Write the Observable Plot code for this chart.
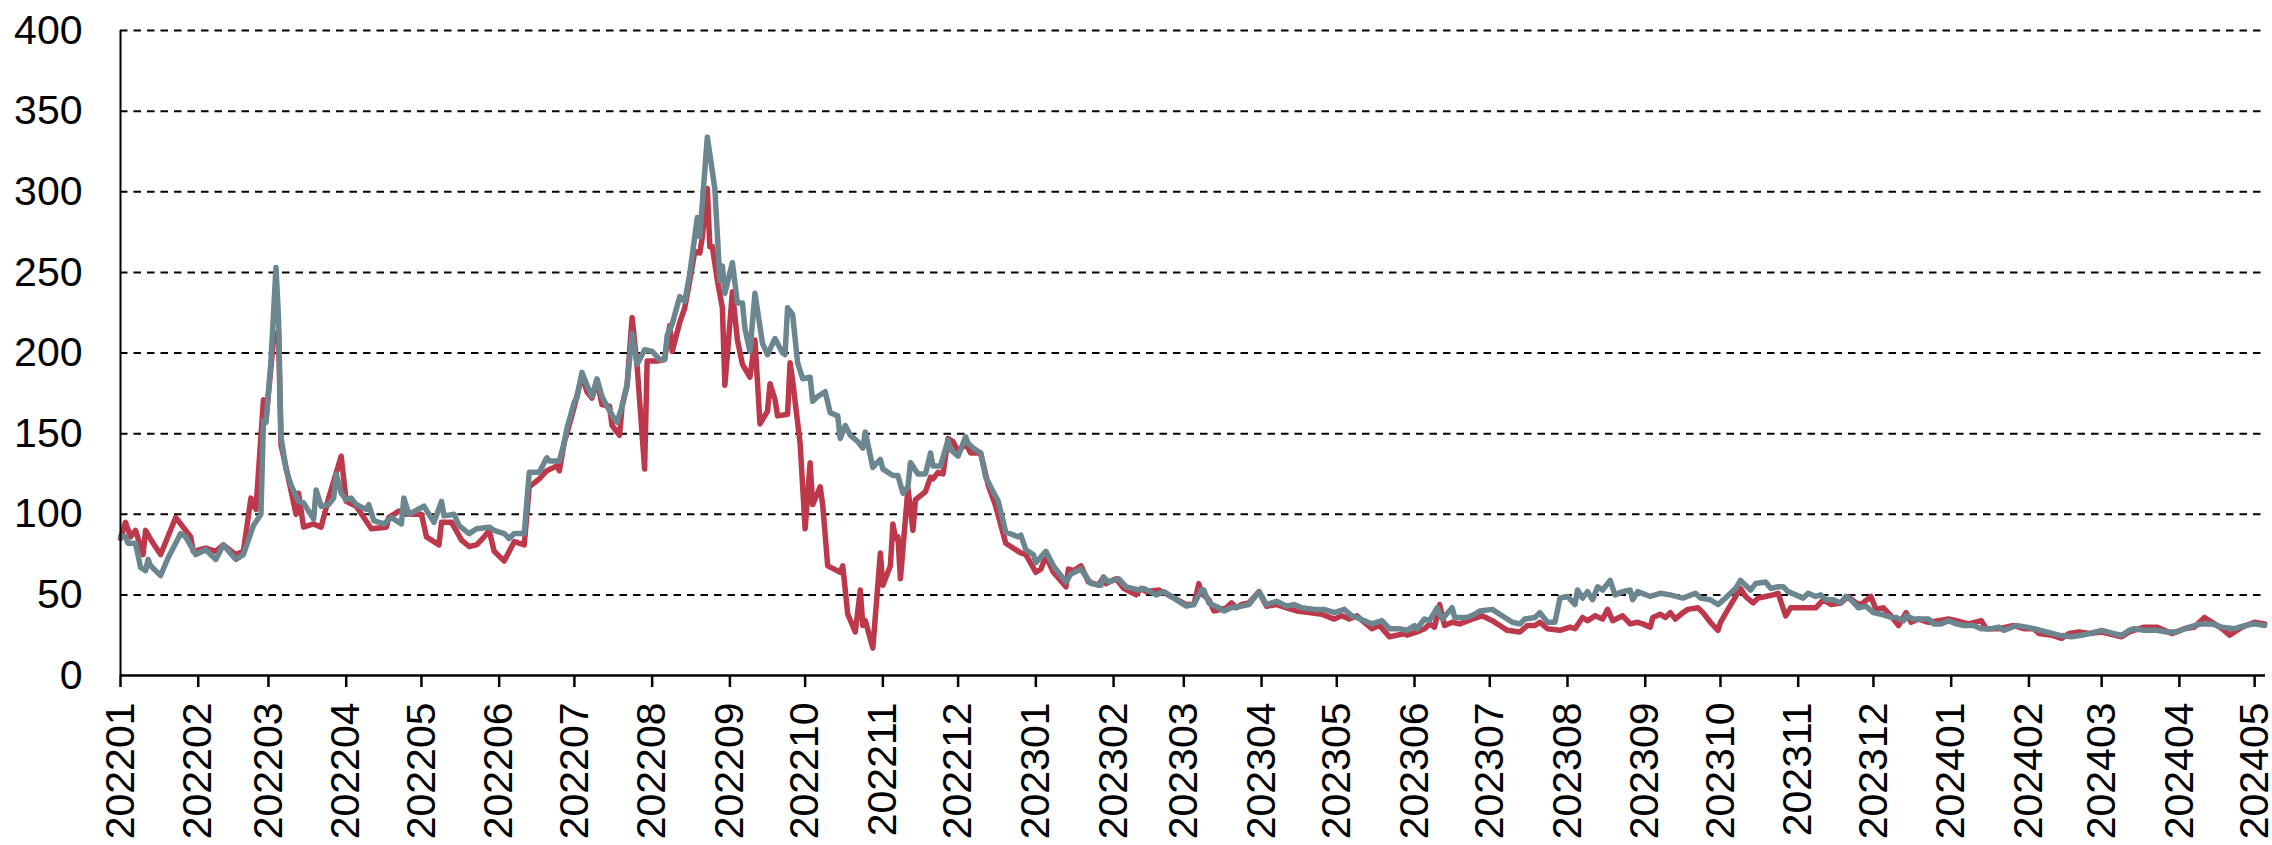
<!DOCTYPE html>
<html>
<head>
<meta charset="utf-8">
<script src="https://cdn.jsdelivr.net/npm/d3@7"></script>
<script src="https://cdn.jsdelivr.net/npm/@observablehq/plot@0.6"></script>
<style>
  html, body { margin: 0; padding: 0; background: #fff; }
</style>
</head>
<body>
<div id="chart"></div>
<script>
// ---- data (x = days since 2022-01-01, y = value) ----
const seriesStart = "2022-01-01";
const axisEnd = "2024-05-05T08:00";
const yTicks = [0, 50, 100, 150, 200, 250, 300, 350, 400];
const monthLabels = [
  "202201","202202","202203","202204","202205","202206","202207","202208","202209","202210","202211","202212",
  "202301","202302","202303","202304","202305","202306","202307","202308","202309","202310","202311","202312",
  "202401","202402","202403","202404","202405"
];

const redSeries = [
  [0,85],[2,95],[4,86],[6,90],[9,75],[10,90],[13,82],[16,75],[22,98],[28,86],[29,77],[34,79],[38,77],[41,81],[46,75],[49,77],
  [52,110],[54,103],[57,171],[58,158],[61,208],[63,214],[64,143],[66,129],[70,100],[71,113],[73,92],[77,94],[80,92],[83,110],
  [88,136],[90,108],[94,105],[100,91],[106,92],[107,98],[111,102],[114,100],[120,100],[122,86],[127,81],[128,95],[132,95],
  [136,84],[139,80],[142,81],[145,86],[147,90],[149,77],[153,71],[157,83],[161,81],[163,117],[167,122],[170,127],[174,130],
  [175,127],[177,145],[178,150],[181,167],[184,186],[186,176],[188,172],[190,183],[192,168],[195,167],[196,155],[199,149],
  [200,167],[202,180],[204,222],[206,192],[209,128],[210,195],[214,195],[217,196],[219,217],[220,201],[223,219],[225,228],
  [227,245],[229,263],[231,262],[232,272],[234,302],[235,266],[236,266],[238,245],[240,228],[241,180],[244,238],[246,208],
  [248,193],[251,185],[253,208],[255,156],[258,164],[259,181],[261,171],[262,161],[266,162],[267,194],[268,183],[271,144],
  [273,91],[275,132],[276,106],[279,117],[280,106],[282,68],[287,64],[288,68],[290,38],[293,27],[295,53],[296,31],[297,34],
  [300,17],[303,76],[304,56],[307,68],[308,94],[309,85],[310,86],[311,60],[314,116],[316,90],[317,109],[321,114],[323,123],
  [324,122],[326,126],[328,125],[330,147],[332,145],[334,139],[337,144],[339,138],[343,138],[346,118],[349,105],[353,82],
  [358,77],[359,76],[361,75],[365,64],[367,66],[369,74],[372,64],[377,55],[378,66],[380,65],[383,68],[386,58],[390,56],
  [392,61],[393,57],[397,60],[400,54],[405,50],[407,54],[409,52],[414,53],[419,49],[425,44],[428,44],[430,57],[431,51],
  [434,47],[436,40],[439,41],[441,42],[443,45],[445,42],[447,44],[450,45],[454,52],[457,43],[461,44],[465,42],[469,40],
  [474,39],[479,38],[484,35],[487,37],[490,35],[493,37],[496,33],[499,29],[502,31],[506,24],[512,26],[513,25],[517,27],
  [520,29],[522,32],[524,30],[526,44],[528,31],[531,33],[534,32],[539,35],[543,37],[547,34],[550,31],[553,28],[558,27],
  [561,31],[564,31],[566,33],[569,29],[574,28],[578,30],[580,29],[583,36],[585,34],[588,37],[591,35],[593,41],[595,34],
  [599,37],[602,32],[605,33],[607,32],[610,30],[611,36],[614,38],[616,36],[618,39],[620,35],[623,39],[625,41],[629,42],
  [631,39],[634,33],[637,28],[638,33],[641,41],[646,54],[648,49],[651,45],[653,48],[656,49],[659,50],[661,51],[664,37],
  [666,42],[670,42],[673,42],[676,42],[679,47],[682,44],[686,45],[689,49],[692,45],[694,44],[698,49],[700,41],[703,42],
  [706,37],[709,31],[712,39],[714,33],[717,35],[721,33],[725,34],[729,35],[732,34],[737,32],[742,34],[744,29],[749,29],
  [755,31],[759,29],[763,29],[765,26],[770,25],[774,23],[777,26],[781,27],[785,26],[790,27],[798,24],[801,27],[807,30],
  [812,30],[818,26],[823,29],[827,30],[831,36],[835,32],[838,29],[841,25],[846,30],[851,33],[855,32]
];

const graySeries = [
  [0,86],[2,86],[3,82],[6,82],[8,67],[10,65],[11,72],[12,68],[16,62],[19,73],[24,88],[26,86],[30,75],[34,78],[38,72],[41,81],
  [46,72],[49,75],[53,93],[56,100],[57,158],[58,157],[60,195],[62,253],[63,222],[64,148],[66,128],[68,118],[71,108],[73,107],
  [77,97],[78,115],[80,105],[83,106],[85,110],[86,125],[88,113],[90,109],[92,110],[94,106],[98,103],[99,106],[101,96],[105,94],
  [108,98],[112,94],[113,110],[115,100],[121,105],[125,95],[128,108],[129,99],[133,100],[135,93],[139,88],[142,91],[147,92],
  [149,90],[153,88],[155,85],[157,88],[161,88],[163,126],[164,126],[167,126],[170,135],[171,133],[175,133],[177,145],[178,153],
  [181,170],[182,172],[184,188],[186,180],[188,173],[190,184],[192,173],[194,167],[197,159],[198,157],[200,167],[202,180],
  [204,212],[206,193],[209,202],[212,201],[215,196],[217,196],[218,211],[220,218],[223,235],[225,232],[227,249],[230,284],
  [231,272],[234,334],[237,302],[239,245],[240,254],[241,237],[244,256],[246,231],[248,231],[249,215],[251,201],[253,237],
  [256,206],[258,199],[261,209],[264,200],[265,199],[266,228],[268,224],[270,194],[272,184],[275,185],[276,170],[278,173],
  [281,176],[283,163],[286,161],[287,147],[289,155],[291,149],[294,145],[296,141],[297,151],[300,129],[303,134],[304,128],
  [308,124],[310,124],[312,113],[314,117],[315,132],[318,125],[321,125],[323,138],[324,130],[327,130],[330,146],[331,140],
  [334,136],[337,148],[338,144],[340,141],[343,138],[345,123],[348,114],[350,108],[353,89],[358,86],[359,87],[361,78],
  [364,75],[365,70],[369,77],[372,68],[377,58],[379,63],[383,66],[387,57],[391,56],[392,61],[394,58],[398,60],[401,55],
  [406,53],[408,54],[413,50],[416,52],[420,48],[425,43],[428,44],[431,53],[432,53],[434,45],[438,42],[440,40],[443,42],
  [447,43],[450,44],[454,52],[457,44],[461,46],[465,43],[468,44],[471,42],[476,41],[480,41],[484,39],[488,41],[491,37],
  [493,36],[496,34],[499,32],[503,34],[506,29],[510,29],[513,28],[516,31],[517,29],[520,35],[522,34],[525,42],[527,35],
  [531,42],[532,36],[537,36],[540,38],[542,40],[547,41],[549,39],[552,36],[555,33],[558,32],[560,35],[564,36],[566,39],
  [569,33],[572,33],[574,48],[577,49],[580,44],[581,53],[583,48],[585,52],[587,47],[589,55],[591,53],[594,59],[596,50],
  [599,52],[602,53],[603,47],[605,52],[610,49],[614,51],[618,50],[623,48],[628,51],[630,48],[634,47],[637,44],[640,48],
  [644,54],[646,59],[650,53],[652,57],[656,58],[658,54],[661,55],[663,55],[665,52],[668,50],[671,48],[673,51],[676,49],
  [678,50],[680,47],[683,47],[686,45],[688,49],[690,47],[693,42],[696,43],[699,39],[702,38],[706,36],[708,36],[711,34],
  [712,37],[715,35],[721,35],[723,32],[726,32],[729,34],[732,32],[735,31],[739,31],[742,29],[746,29],[749,30],[751,28],
  [756,31],[760,30],[763,29],[768,27],[773,25],[778,24],[782,25],[785,26],[790,28],[795,26],[798,25],[801,28],[803,29],
  [807,28],[812,28],[816,27],[820,27],[823,29],[827,31],[830,32],[834,32],[838,30],[843,29],[847,31],[851,32],[855,31]
];

// ---- build ----
const t0 = d3.isoParse(seriesStart);
const toRows = s => s.map(([d, v]) => ({date: d3.utcDay.offset(t0, d), value: v}));
const red = toRows(redSeries);
const gray = toRows(graySeries);
const parseMonth = d3.utcParse("%Y%m");
const monthTicks = monthLabels.map(parseMonth);
const xDomain = [t0, d3.isoParse(axisEnd)];

const chart = Plot.plot({
  width: 2272,
  height: 845,
  marginLeft: 120,
  marginRight: 7,
  marginTop: 30,
  marginBottom: 170,
  style: {
    fontFamily: "'Liberation Sans', Arial, sans-serif",
    fontSize: "41px",
    color: "#000",
    background: "#fff"
  },
  x: {type: "utc", domain: xDomain},
  y: {domain: [0, 400]},
  marks: [
    Plot.gridY(yTicks.filter(t => t > 0), {stroke: "#000", strokeOpacity: 1, strokeWidth: 2, strokeDasharray: "7.5,6"}),
    Plot.lineY(red, {x: "date", y: "value", stroke: "#BE384C", strokeWidth: 5.5, strokeLinejoin: "round", strokeLinecap: "round"}),
    Plot.lineY(gray, {x: "date", y: "value", stroke: "#6B868F", strokeWidth: 5.5, strokeLinejoin: "round", strokeLinecap: "round"}),
    Plot.ruleY([0], {stroke: "#000", strokeWidth: 2.5}),
    Plot.ruleX([t0], {stroke: "#000", strokeWidth: 2}),
    Plot.axisY(yTicks, {tickSize: 0, tickPadding: 38, fontSize: 41, label: null}),
    Plot.axisX(monthTicks, {tickFormat: d3.utcFormat("%Y%m"), tickRotate: -90, tickSize: 12, tickPadding: 15, strokeWidth: 2.5, fontSize: 41, label: null})
  ]
});
document.getElementById("chart").appendChild(chart);
</script>
</body>
</html>
